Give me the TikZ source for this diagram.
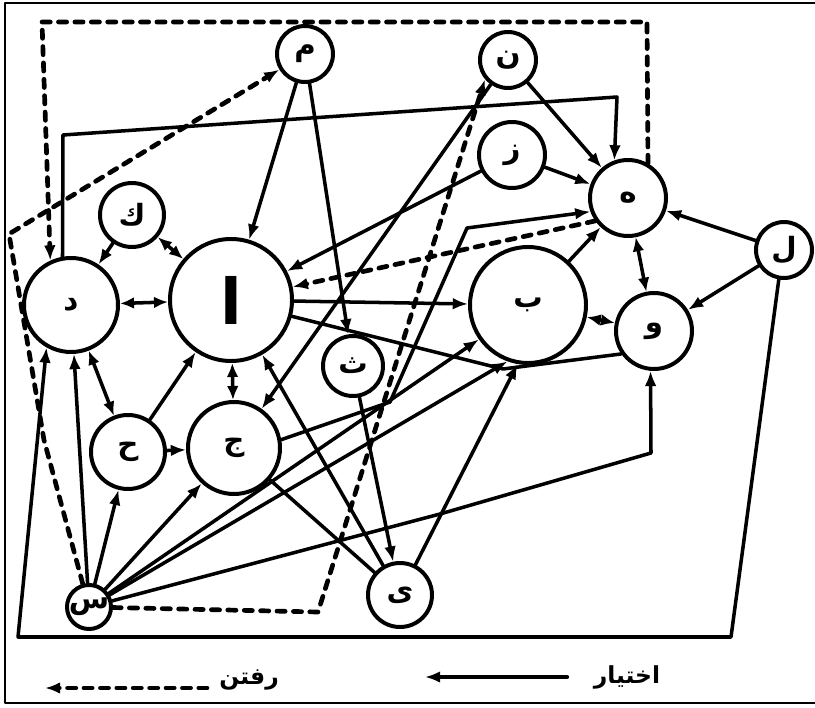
\documentclass[tikz,border=0pt]{standalone}
\usepackage{fontspec}
\newfontfamily\arabicfont[Script=Arabic]{DejaVu Sans}
\TeXXeTstate=1
\usetikzlibrary{arrows.meta}

\begin{document}
\begin{tikzpicture}[x=0.03cm,y=-0.03cm,line cap=round,line join=round,
  member/.style={circle,draw,line width=3.4pt,inner sep=0pt,font=\arabicfont\bfseries\fontsize{25}{25}\selectfont},
  choice/.style={line width=3pt,-{Latex[length=13pt,width=10pt]}},
  mutual/.style={line width=3pt,{Latex[length=12pt,width=10pt]}-{Latex[length=12pt,width=10pt]}},
  tie/.style={line width=3pt},
  goes/.style={line width=4pt,dash pattern=on 7pt off 7pt,-{Latex[length=13pt,width=10pt]}}]
  \useasboundingbox (0,0) rectangle (815,708);
  \draw[line width=1.4pt] (815,3) -- (5,3) -- (5,703) -- (815,703);

  \node[member,minimum size=1.68cm] (m) at (305,54) {م};
  \node[member,minimum size=1.68cm] (n) at (508,60) {ن};
  \node[member,minimum size=1.98cm] (z) at (512,155) {ز};
  \node[member,minimum size=2.28cm] (h) at (628,198) {ه};
  \node[member,minimum size=1.68cm] (l) at (784,250) {ل};
  \node[member,minimum size=1.92cm] (k) at (132,215) {ك};
  \node[member,minimum size=2.82cm] (d) at (71,305) {د};
  \node[member,minimum size=3.66cm,font=\arabicfont\bfseries\fontsize{54}{54}\selectfont] (a) at (231,300) {ا};
  \node[member,minimum size=3.48cm] (b) at (528,305) {ب};
  \node[member,minimum size=2.28cm] (w) at (654,331) {و};
  \node[member,minimum size=1.8cm] (th) at (353,366) {ث};
  \node[member,minimum size=2.22cm] (hh) at (128,452) {ح};
  \node[member,minimum size=2.76cm] (j) at (234,448) {ج};
  \node[member,minimum size=1.2cm] (s) at (89,607) {س};
  \node[member,minimum size=1.92cm] (y) at (400,595) {ی};

  \draw[choice] (m) -- (a);
  \draw[choice] (m) -- (th);
  \draw[choice] (n) -- (h);
  \draw[choice] (n) -- (j);
  \draw[choice] (z) -- (h);
  \draw[choice] (z) -- (a);
  \draw[choice] (l) -- (h);
  \draw[choice] (l) -- (w);
  \coordinate (lb) at (731,637);
  \coordinate (db) at (18,637);
  \draw[choice] (l.260) -- (lb) -- (db) -- (d.240);
  \coordinate (dt) at (63,135);
  \coordinate (ht) at (617,97);
  \draw[choice] (d.100) -- (dt) -- (ht) -- (h.110);
  \draw[mutual] (d) -- (a);
  \draw[mutual] (k) -- (a);
  \draw[choice] (k) -- (d);
  \draw[mutual] (d) -- (hh);
  \draw[choice] (hh) -- (a);
  \draw[choice] (hh) -- (j);
  \draw[mutual] (a) -- (j);
  \draw[mutual] (h) -- (w);
  \draw[mutual] (b) -- (w);
  \draw[choice] (b) -- (h);
  \draw[choice] (a) -- (b);
  \coordinate (bu) at (503,369);
  \draw[tie] (a.-15) -- (bu) -- (w.215);
  \draw[choice] (y) -- (a);
  \draw[choice] (th) -- (y);
  \draw[tie] (j) -- (y);
  \draw[choice] (y) -- (b.260);
  \draw[choice] (s) -- (d);
  \draw[choice] (s) -- (hh);
  \draw[choice] (s) -- (j);
  \draw[choice] (s) -- (b.215);
  \draw[choice] (s) -- (b.250);
  \coordinate (sw1) at (440,514);
  \coordinate (sw2) at (651,453);
  \draw[choice] (s) -- (sw1) -- (sw2) -- (w.265);
  \coordinate (jh1) at (390,402);
  \coordinate (jh2) at (467,228);
  \draw[choice] (j.10) -- (jh1) -- (jh2) -- (h.200);

  \coordinate (tr) at (647,22);
  \coordinate (tl) at (42,22);
  \draw[goes] (h.60) -- (tr) -- (tl) -- (d.115);
  \coordinate (sl) at (44,440);
  \coordinate (ml) at (9,234);
  \draw[goes] (s) -- (sl) -- (ml) -- (m);
  \coordinate (sr) at (318,612);
  \draw[goes] (s) -- (sr) -- (n.220);
  \draw[goes] (h.215) -- (a.12);

  \coordinate (gofrom) at (207,688);
  \coordinate (goto) at (45,688);
  \draw[goes] (gofrom) -- (goto);
  \node (golabel) at (249,680) {\arabicfont\bfseries\fontsize{20}{20}\selectfont\beginR رفتن\endR};
  \coordinate (chfrom) at (567,677);
  \coordinate (chto) at (425,677);
  \draw[choice,line width=3.6pt] (chfrom) -- (chto);
  \node (chlabel) at (627,677) {\arabicfont\bfseries\fontsize{20}{20}\selectfont\beginR اختیار\endR};
\end{tikzpicture}
\end{document}
